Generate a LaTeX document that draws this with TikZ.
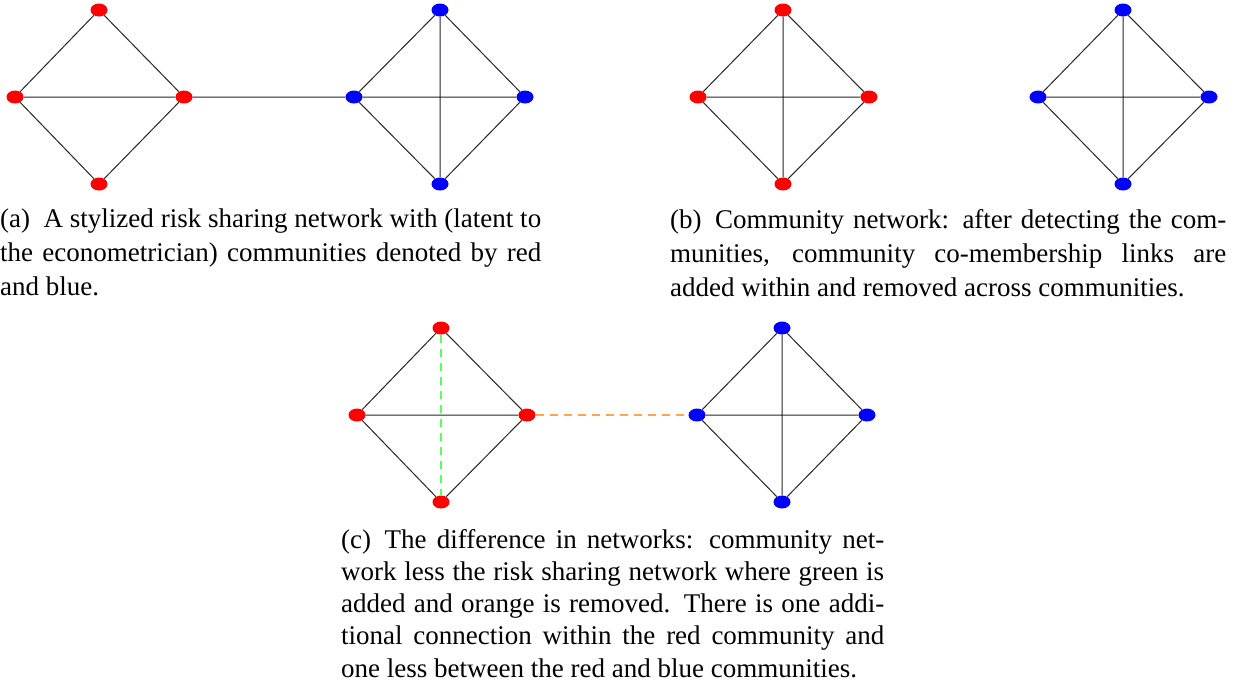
\documentclass[tikz,border=0pt]{standalone}
\usepackage{fontspec}
\setmainfont{Liberation Serif}
\usetikzlibrary{shapes.geometric}
\tikzset{
  vtx/.style={ellipse, inner sep=0pt, minimum width=17pt, minimum height=13pt},
  rv/.style={vtx, fill=red},
  bv/.style={vtx, fill=blue},
  edge/.style={draw=black!85, line width=1pt},
  added/.style={draw=green!65, line width=1.4pt, dash pattern=on 8pt off 6pt},
  removed/.style={draw=orange!70, line width=1.4pt, dash pattern=on 8pt off 6pt},
  captext/.style={anchor=north west, inner sep=0pt, align=justify,
    font=\fontsize{27}{34}\selectfont},
}
\newcommand{\kfour}[4]{%
  \draw[edge] (#1) -- (#2) -- (#3) -- (#4) -- (#1) (#1) -- (#3) (#2) -- (#4);}
\begin{document}
\begin{tikzpicture}[x=1pt, y=-1pt]
\useasboundingbox (0,0) rectangle (1234,681);

% (a) risk sharing network
\node[rv] (a1) at (99,10) {};
\node[rv] (a2) at (15,97) {};
\node[rv] (a3) at (99,184) {};
\node[rv] (a4) at (184,97) {};
\node[bv] (a5) at (440,10) {};
\node[bv] (a6) at (354,97) {};
\node[bv] (a7) at (440,184) {};
\node[bv] (a8) at (525,97) {};
\draw[edge] (a1) -- (a2) -- (a3) -- (a4) -- (a1) (a2) -- (a4) (a4) -- (a6);
\kfour{a5}{a6}{a7}{a8}

% (b) community network
\node[rv] (b1) at (783,10) {};
\node[rv] (b2) at (698,97) {};
\node[rv] (b3) at (783,184) {};
\node[rv] (b4) at (869,97) {};
\node[bv] (b5) at (1123,10) {};
\node[bv] (b6) at (1038,97) {};
\node[bv] (b7) at (1123,184) {};
\node[bv] (b8) at (1209,97) {};
\kfour{b1}{b2}{b3}{b4}
\kfour{b5}{b6}{b7}{b8}

% (c) difference
\node[rv] (c1) at (441,328) {};
\node[rv] (c2) at (357,415) {};
\node[rv] (c3) at (441,502) {};
\node[rv] (c4) at (527,415) {};
\node[bv] (c5) at (782,328) {};
\node[bv] (c6) at (697,415) {};
\node[bv] (c7) at (782,502) {};
\node[bv] (c8) at (867,415) {};
\draw[edge] (c1) -- (c2) -- (c3) -- (c4) -- (c1) (c2) -- (c4);
\draw[added] (c1) -- (c3);
\draw[removed] (c4) -- (c6);
\kfour{c5}{c6}{c7}{c8}

% captions
\node[captext, text width=541pt] (capa) at (0,209) {(a)\enskip A stylized risk sharing network with (latent to\linebreak
the econometrician) communities denoted by red\linebreak and blue.};
\node[captext, text width=556pt] (capb) at (670,209) {(b)\enskip Community network: after detecting the com-\linebreak
munities, community co-membership links are\linebreak
added within and removed across communities.};
\node[captext, text width=543pt, font=\fontsize{27}{32.2}\selectfont] (capc) at (341,529) {(c)\enskip The difference in networks: community net-\linebreak
work less the risk sharing network where green is\linebreak
added and orange is removed. There is one addi-\linebreak
tional connection within the red community and\linebreak
one less between the red and blue communities.};
\end{tikzpicture}
\end{document}
